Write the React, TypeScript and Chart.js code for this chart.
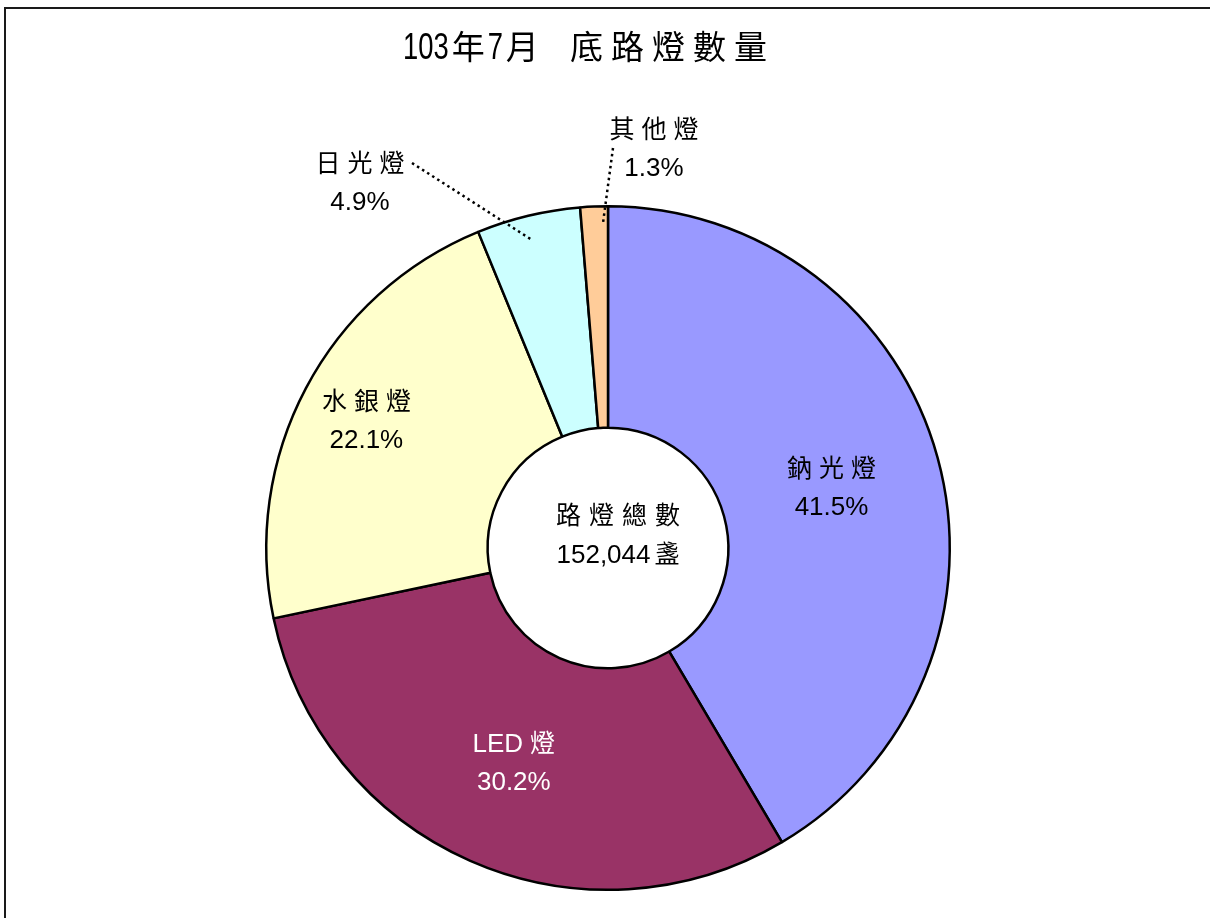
import React, { useEffect, useRef } from 'react';
import { Chart, registerables } from 'chart.js';

Chart.register(...registerables);

// ---- data ----
const categories = ['鈉光燈', 'LED燈', '水銀燈', '日光燈', '其他燈'];
const percentages = [41.5, 30.2, 22.1, 4.9, 1.3];
const percentLabels = ['41.5%', '30.2%', '22.1%', '4.9%', '1.3%'];
const sliceColors = ['#9999FF', '#993366', '#FFFFCC', '#CCFFFF', '#FFCC99'];
const titleLeft = '103年7月';
const titleRight = '底路燈數量';
const centerCaption = '路燈總數';
const centerTotal = '152,044';
const centerUnit = '盞';

// ---- fonts ----
const LATIN = '"Liberation Sans", Arial, sans-serif';
const CJK = '"Noto Sans CJK TC", "Noto Sans CJK SC", sans-serif';

const isCJK = (ch: string) => /[\u2e80-\u9fff\uf900-\ufaff\uff00-\uffef]/.test(ch);

type Run = { text: string; cjk: boolean; w: number };

function buildRuns(ctx: CanvasRenderingContext2D, text: string, latinFont: string, cjkFont: string, gap: number, latinScale: number) {
  const runs: Run[] = [];
  for (const ch of Array.from(text)) {
    const cjk = isCJK(ch);
    const last = runs[runs.length - 1];
    if (last && !cjk && !last.cjk) last.text += ch;
    else runs.push({ text: ch, cjk, w: 0 });
  }
  let total = 0;
  runs.forEach((r, i) => {
    ctx.font = r.cjk ? cjkFont : latinFont;
    r.w = ctx.measureText(r.text).width * (r.cjk ? 1 : latinScale);
    total += r.w;
    if (i < runs.length - 1) total += gap;
  });
  return { runs, total };
}

function drawMixed(
  ctx: CanvasRenderingContext2D,
  text: string,
  x: number,
  baseline: number,
  align: 'left' | 'center',
  latinFont: string,
  cjkFont: string,
  gap: number,
  color: string,
  latinScale = 1
) {
  const { runs, total } = buildRuns(ctx, text, latinFont, cjkFont, gap, latinScale);
  let cx = align === 'center' ? x - total / 2 : x;
  ctx.save();
  ctx.textAlign = 'left';
  ctx.textBaseline = 'alphabetic';
  ctx.fillStyle = color;
  runs.forEach((r) => {
    ctx.font = r.cjk ? cjkFont : latinFont;
    ctx.save();
    ctx.translate(cx, baseline);
    if (!r.cjk) ctx.scale(latinScale, 1);
    ctx.fillText(r.text, 0, 0);
    ctx.restore();
    cx += r.w + gap;
  });
  ctx.restore();
}

// label placement (relative to the doughnut's centre)
const labelLayout: any[] = [
  { frac: 0.678, color: '#000000' },
  { frac: 0.684, color: '#FFFFFF' },
  { frac: 0.8, color: '#000000' },
  { dx: -248, dy: -366, color: '#000000', leader: [-196, -385, -76, -308] },
  { dx: 46, dy: -400, color: '#000000', leader: [5, -400, -5, -325] },
];

const decorPlugin = {
  id: 'decor',
  afterDraw(chart: any) {
    const ctx: CanvasRenderingContext2D = chart.ctx;
    const meta = chart.getDatasetMeta(0);
    const arcs = meta.data;
    if (!arcs.length) return;
    const cx = arcs[0].x;
    const cy = arcs[0].y;

    // frame
    ctx.save();
    ctx.fillStyle = '#1a1a1a';
    ctx.fillRect(4, 7, chart.width - 4, 2);
    ctx.fillRect(4, 7, 2, chart.height - 7);
    ctx.restore();

    // title
    const tLatin = `36px ${LATIN}`;
    const tCjk = `33px ${CJK}`;
    drawMixed(ctx, titleLeft, 403, 59, 'left', tLatin, tCjk, 3, '#000', 0.76);
    drawMixed(ctx, titleRight, 570, 59, 'left', tLatin, tCjk, 8, '#000');

    const lLatin = `26px ${LATIN}`;
    const lCjk = `25px ${CJK}`;
    const lineGap = 38;

    // slice labels
    arcs.forEach((arc: any, i: number) => {
      const lay = labelLayout[i];
      let bx: number, by: number;
      if (lay.frac !== undefined) {
        const mid = (arc.startAngle + arc.endAngle) / 2;
        const r = arc.outerRadius * lay.frac;
        bx = cx + Math.cos(mid) * r;
        by = cy + Math.sin(mid) * r;
      } else {
        bx = cx + lay.dx;
        by = cy + lay.dy;
      }
      drawMixed(ctx, categories[i], bx, by - lineGap / 2 + 9, 'center', lLatin, lCjk, 7, lay.color);
      drawMixed(ctx, percentLabels[i], bx, by + lineGap / 2 + 9, 'center', lLatin, lCjk, 7, lay.color);
      if (lay.leader) {
        const [x1, y1, x2, y2] = lay.leader;
        ctx.save();
        ctx.strokeStyle = '#000';
        ctx.lineWidth = 2.5;
        ctx.setLineDash([2.5, 3.5]);
        ctx.beginPath();
        ctx.moveTo(cx + x1, cy + y1);
        ctx.lineTo(cx + x2, cy + y2);
        ctx.stroke();
        ctx.restore();
      }
    });

    // centre text
    drawMixed(ctx, centerCaption, cx + 10, cy - 33 + 9, 'center', lLatin, lCjk, 8, '#000');
    drawMixed(ctx, centerTotal + centerUnit, cx + 10, cy + 6 + 9, 'center', lLatin, lCjk, 4, '#000');
  },
};

export default function App() {
  const ref = useRef<HTMLCanvasElement | null>(null);
  useEffect(() => {
    if (!ref.current) return;
    const chart = new Chart(ref.current, {
      type: 'doughnut',
      data: {
        labels: categories,
        datasets: [
          {
            data: percentages,
            backgroundColor: sliceColors,
            borderColor: '#000000',
            borderWidth: 2.5,
            hoverOffset: 0,
          },
        ],
      },
      options: {
        animation: false,
        responsive: false,
        devicePixelRatio: 1,
        events: [],
        cutout: '35.2%',
        layout: { padding: { left: 265, right: 259, top: 205, bottom: 27 } },
        plugins: {
          legend: { display: false },
          title: { display: false },
          tooltip: { enabled: false },
        },
      },
      plugins: [decorPlugin],
    });
    return () => chart.destroy();
  }, []);
  return (
    <div style={{ position: 'fixed', left: 0, top: 0, width: 1210, height: 918, background: '#fff' }}>
      <canvas ref={ref} width={1210} height={918} style={{ display: 'block' }} />
    </div>
  );
}
